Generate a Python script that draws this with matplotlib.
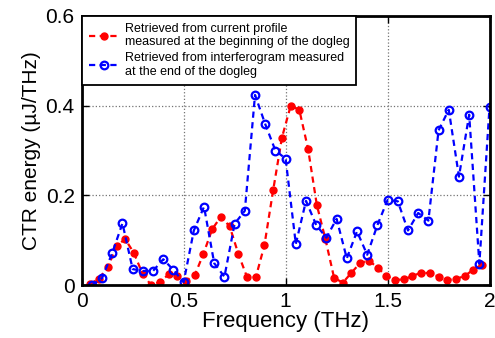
import numpy as np
import matplotlib
matplotlib.use("Agg")
import matplotlib.pyplot as plt

plt.rcParams['font.family'] = ['Liberation Sans', 'DejaVu Sans']

# Retrieved from current profile (red)
f_red = [0.043, 0.085, 0.128, 0.171, 0.213, 0.256, 0.299, 0.341, 0.384, 0.427,
         0.469, 0.512, 0.555, 0.597, 0.640, 0.683, 0.726, 0.768, 0.811, 0.854,
         0.896, 0.939, 0.982, 1.025, 1.067, 1.110, 1.153, 1.195, 1.238, 1.281,
         1.323, 1.366, 1.409, 1.451, 1.494, 1.537, 1.580, 1.622, 1.665, 1.708,
         1.751, 1.793, 1.836, 1.879, 1.921, 1.964]
e_red = [0.003, 0.015, 0.040, 0.087, 0.103, 0.072, 0.025, 0.000, 0.008, 0.024,
         0.021, 0.010, 0.023, 0.070, 0.125, 0.153, 0.131, 0.070, 0.018, 0.018,
         0.089, 0.212, 0.329, 0.400, 0.391, 0.304, 0.179, 0.103, 0.016, 0.006,
         0.028, 0.050, 0.055, 0.039, 0.021, 0.012, 0.013, 0.021, 0.028, 0.027,
         0.019, 0.012, 0.014, 0.021, 0.035, 0.046]

# Retrieved from interferogram (blue)
f_blue = [0.05, 0.10, 0.15, 0.20, 0.25, 0.30, 0.35, 0.40, 0.45, 0.50,
          0.55, 0.60, 0.65, 0.70, 0.75, 0.80, 0.85, 0.90, 0.95, 1.00,
          1.05, 1.10, 1.15, 1.20, 1.25, 1.30, 1.35, 1.40, 1.45, 1.50,
          1.55, 1.60, 1.65, 1.70, 1.75, 1.80, 1.85, 1.90, 1.95, 2.00]
e_blue = [0.000, 0.016, 0.072, 0.138, 0.036, 0.032, 0.032, 0.058, 0.034, 0.007,
          0.122, 0.175, 0.049, 0.019, 0.137, 0.166, 0.424, 0.359, 0.300, 0.282,
          0.092, 0.188, 0.134, 0.106, 0.148, 0.060, 0.120, 0.068, 0.134, 0.190,
          0.187, 0.122, 0.161, 0.144, 0.345, 0.391, 0.242, 0.380, 0.048, 0.398]

xticks = [0, 0.5, 1, 1.5, 2]
xticklabels = ['0', '0.5', '1', '1.5', '2']
yticks = [0, 0.2, 0.4, 0.6]
yticklabels = ['0', '0.2', '0.4', '0.6']

fig = plt.figure(figsize=(4.95, 3.38), dpi=100)
ax = fig.add_axes([0.165, 0.156, 0.824, 0.797])

ax.plot(f_red, e_red, 'r--', marker='.', markersize=10, linewidth=1.6,
        dashes=(2.8, 2.0),
        label='Retrieved from current profile\nmeasured at the beginning of the dogleg')
ax.plot(f_blue, e_blue, 'b--', marker='o', markersize=5.5, markerfacecolor='none',
        markeredgewidth=1.6, linewidth=1.6, dashes=(2.8, 2.0),
        label='Retrieved from interferogram measured\nat the end of the dogleg')

ax.set_xlim(0, 2)
ax.set_ylim(0, 0.6)
ax.set_xticks(xticks)
ax.set_xticklabels(xticklabels)
ax.set_yticks(yticks)
ax.set_yticklabels(yticklabels)
ax.tick_params(direction='in', top=True, right=True, length=5, width=1,
               labelsize=15, pad=5)
ax.grid(True, color='0.45', linestyle=':', linewidth=0.9)
for s in ax.spines.values():
    s.set_linewidth(2)

ax.set_xlabel('Frequency (THz)', fontsize=16, labelpad=0)
ax.set_ylabel('CTR energy (\u00b5J/THz)', fontsize=15, labelpad=3)

leg = ax.legend(loc='upper left', fontsize=9, borderaxespad=0, fancybox=False,
                framealpha=1, edgecolor='black', handlelength=2.5,
                handletextpad=0.4, borderpad=0.55, labelspacing=0.35)
leg.get_frame().set_linewidth(1.3)
for t in leg.get_texts():
    t.set_linespacing(1.15)

fig.savefig('out.png', dpi=100)
